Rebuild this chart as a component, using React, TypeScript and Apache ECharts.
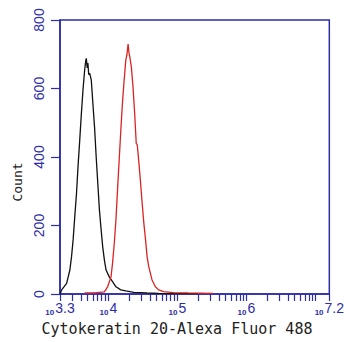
import React, { useEffect, useRef } from "react";
import * as echarts from "echarts";

// x values are log10 of fluorescence intensity
const controlSeries: [number, number][] = [
  [3.300, 0], [3.324, 12], [3.396, 31], [3.443, 70], [3.467, 109], [3.490, 158],
  [3.514, 226], [3.539, 294], [3.561, 372], [3.586, 450], [3.610, 528], [3.633, 596],
  [3.657, 654], [3.672, 680], [3.681, 688], [3.694, 660], [3.704, 674], [3.716, 640],
  [3.729, 645], [3.753, 625], [3.776, 557], [3.800, 488], [3.824, 400], [3.847, 324],
  [3.871, 245], [3.896, 187], [3.919, 137], [3.943, 99], [3.967, 70], [4.014, 50],
  [4.061, 36], [4.110, 21], [4.181, 12], [4.253, 9], [4.371, 5], [4.557, 3],
  [4.729, 2], [5.300, 1],
];
const sampleSeries: [number, number][] = [
  [3.657, 3], [3.800, 3], [3.943, 6], [3.990, 21], [4.039, 50], [4.061, 90],
  [4.086, 148], [4.110, 216], [4.133, 304], [4.157, 391], [4.181, 479], [4.204, 557],
  [4.229, 625], [4.253, 683], [4.270, 700], [4.286, 730], [4.298, 705], [4.310, 693],
  [4.333, 664], [4.357, 605], [4.381, 528], [4.404, 440], [4.419, 435], [4.443, 382],
  [4.467, 324], [4.490, 265], [4.514, 207], [4.539, 158], [4.561, 109], [4.586, 79],
  [4.633, 41], [4.681, 21], [4.729, 12], [4.800, 7], [4.943, 4], [5.157, 3], [5.514, 2],
];
const xLabelValues = [3.3, 4, 5, 6, 7.2];
const yTicks = [0, 200, 400, 600, 800];
const xTitle = "Cytokeratin 20-Alexa Fluor 488";
const yTitle = "Count";

const AXIS = "#2d2da8";

function buildTicks(): number[] {
  const out: number[] = [];
  for (let k = 3; k <= 7; k++) {
    for (let m = 1; m <= 9; m++) {
      const v = Math.log10(m * Math.pow(10, k));
      if (v >= 3.3 && v <= 7.2) out.push(v);
    }
  }
  out.push(7.2);
  return out;
}

export default function App() {
  const ref = useRef<HTMLDivElement>(null);
  useEffect(() => {
    if (!ref.current) return;
    const chart = echarts.init(ref.current, null, { renderer: "svg" });
    chart.setOption({
      animation: false,
      backgroundColor: "#ffffff",
      grid: {
        left: 60, right: 14, top: 20, bottom: 48,
        show: true, borderColor: AXIS, borderWidth: 1.5, backgroundColor: "transparent",
      },
      xAxis: {
        type: "value", min: 3.3, max: 7.2,
        splitLine: { show: false },
        axisLine: { show: true, lineStyle: { color: AXIS, width: 1.5 } },
        axisTick: { show: true, length: 7, customValues: buildTicks(), lineStyle: { color: AXIS, width: 1.2 } },
        axisLabel: {
          customValues: xLabelValues,
          margin: 6,
          formatter: (v: number) => `{b|10}{e|${Math.round(v * 10) / 10}}`,
          rich: {
            b: { fontSize: 8, color: AXIS, fontFamily: "Liberation Sans", verticalAlign: "bottom", lineHeight: 16, padding: [5, 1, 0, 0], fontWeight: "bold" },
            e: { fontSize: 14, color: AXIS, fontFamily: "Liberation Sans", lineHeight: 16 },
          },
        },
      },
      yAxis: {
        type: "value", min: 0, max: 800, interval: 200,
        splitLine: { show: false },
        axisLine: { show: true, lineStyle: { color: AXIS, width: 1.5 } },
        axisTick: { show: true, length: 9, lineStyle: { color: AXIS, width: 1.2 } },
        axisLabel: {
          rotate: 90, margin: 14, fontSize: 14, color: AXIS, fontFamily: "Liberation Sans",
          formatter: (v: number) => (yTicks.includes(v) ? String(v) : ""),
        },
      },
      graphic: [
        {
          type: "text", x: 17, y: 182, rotation: Math.PI / 2,
          style: { text: yTitle, fontSize: 13, fontFamily: "DejaVu Sans Mono", fill: "#222", align: "center", verticalAlign: "middle" },
        },
        {
          type: "text", x: 177, y: 329,
          style: { text: xTitle, fontSize: 15, fontFamily: "DejaVu Sans Mono", fill: "#222", align: "center", verticalAlign: "middle" },
        },
      ],
      series: [
        {
          type: "line", data: controlSeries, showSymbol: false,
          lineStyle: { color: "#111111", width: 1.3 }, itemStyle: { color: "#111111" },
        },
        {
          type: "line", data: sampleSeries, showSymbol: false,
          lineStyle: { color: "#dd2222", width: 1.3 }, itemStyle: { color: "#dd2222" },
        },
      ],
    });
    return () => chart.dispose();
  }, []);
  return <div ref={ref} style={{ width: 347, height: 342, position: "absolute", left: 0, top: 0 }} />;
}
